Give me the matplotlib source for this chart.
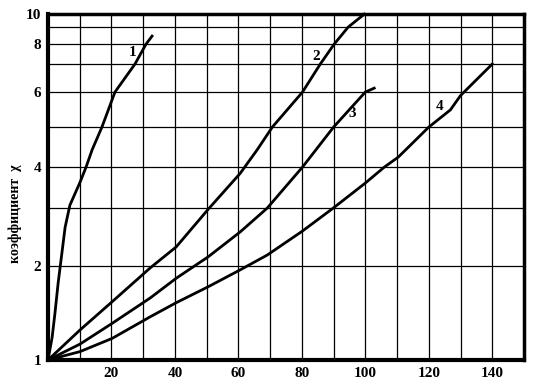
import numpy as np
import matplotlib.pyplot as plt

# y-axis calibration of the original (hand drawn, close to log)
y_marks = [1, 2, 3, 4, 5, 6, 7, 8, 9, 10]
y_frac = [0, 0.2717, 0.4393, 0.5578, 0.6734, 0.7746, 0.8555, 0.9133, 0.9624, 1.0]

# curves
x1 = [0, 1.3, 2.2, 3.2, 4.1, 5.4, 6.9, 10.1, 12, 13.9, 17, 21.1, 27.4, 30.9, 32.8]
y1 = [1, 1.24, 1.5, 1.82, 2.1, 2.67, 3.07, 3.63, 4.0, 4.43, 5, 6, 7, 8, 8.47]
x2 = [0, 10.1, 20.2, 32.2, 40.4, 50.5, 60.6, 65.9, 70.7, 80.2, 85.8, 90.2, 94.6, 99.7]
y2 = [1, 1.32, 1.62, 1.98, 2.33, 2.98, 3.85, 4.43, 5, 6, 7, 8, 9, 10]
x3 = [0, 10.1, 20.2, 32.2, 40.4, 50.5, 60.6, 69.1, 80.2, 90, 100, 102.8]
y3 = [1, 1.17, 1.39, 1.66, 1.87, 2.16, 2.59, 3, 4, 5, 6, 6.14]
x4 = [0, 10.1, 20.2, 32.2, 40.4, 50.5, 60.6, 69.1, 80.1, 89.9, 100, 106, 110.4, 120, 126.8, 130, 140]
y4 = [1, 1.09, 1.23, 1.46, 1.61, 1.78, 1.96, 2.19, 2.6, 3, 3.61, 4.0, 4.25, 5, 5.49, 5.9, 7]

curve_labels = ['1', '2', '3', '4']
label_x = [26.8, 84.5, 95.9, 123.3]
label_y = [7.6, 7.4, 5.4, 5.6]

x_ticks = [20, 40, 60, 80, 100, 120, 140]
y_ticks = [1, 2, 4, 6, 8, 10]


def fwd(v):
    return np.interp(v, y_marks, y_frac)


def inv(f):
    return np.interp(f, y_frac, y_marks)


plt.rcParams['font.family'] = ['Liberation Serif', 'DejaVu Serif']
plt.rcParams['font.weight'] = 'bold'

fig = plt.figure(figsize=(5.35, 3.81), dpi=100)
ax = fig.add_axes([0.0897, 0.055, 0.8897, 0.908])
ax.set_yscale('function', functions=(fwd, inv))
ax.set_xlim(0, 150)
ax.set_ylim(1, 10)

# grid
for gx in range(10, 150, 10):
    ax.axvline(gx, color='black', lw=0.9, zorder=1)
for gy in range(2, 10):
    ax.axhline(gy, color='black', lw=0.9, zorder=1)

for xs, ys in [(x1, y1), (x2, y2), (x3, y3), (x4, y4)]:
    ax.plot(xs, ys, color='black', lw=2, zorder=3, clip_on=False)

for t, lx, ly in zip(curve_labels, label_x, label_y):
    ax.text(lx, ly, t, fontsize=11, fontweight='bold', ha='center', va='center', zorder=4)

ax.set_xticks(x_ticks)
ax.set_xticklabels([str(v) for v in x_ticks], fontsize=11, fontweight='bold')
ax.set_yticks(y_ticks)
ax.set_yticklabels([str(v) for v in y_ticks], fontsize=11, fontweight='bold')
ax.minorticks_off()
ax.tick_params(length=0, pad=5)

for side in ['left', 'bottom']:
    ax.spines[side].set_linewidth(3)
for side in ['top', 'right']:
    ax.spines[side].set_linewidth(2.5)

fig.text(0.028, 0.44, 'коэффициент  χ', rotation=90, fontsize=10,
         fontweight='bold', ha='center', va='center')

fig.savefig('out.png', dpi=100)
